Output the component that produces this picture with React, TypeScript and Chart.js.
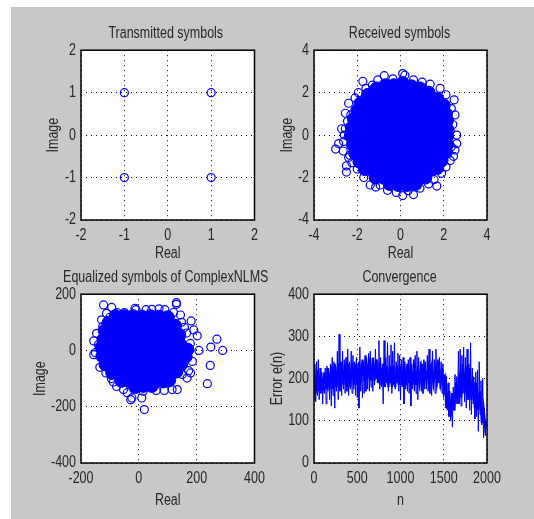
import React, { useEffect, useRef } from "react";
import { Chart, registerables } from "chart.js";

Chart.register(...registerables);

const transmittedPoints = [[-1, 1], [1, 1], [-1, -1], [1, -1]];

const receivedRim = [
  [-3.0, -0.66], [-2.86, -0.4], [-2.63, -0.3], [-2.72, 0.3], [-2.55, 1.03], [-2.4, 1.5], [-2.5, -1.74], [-2.5, -1.45],
  [-2.6, 0.0], [-2.45, 0.65], [-2.65, -0.75], [-2.4, -1.05], [-2.1, 1.75], [-1.74, 2.53], [-1.6, 2.2], [-1.05, 2.6], [-0.75, 2.8],
  [-0.35, 2.65], [0.1, 2.9], [0.2, 2.82], [0.6, 2.6], [1.0, 2.5], [1.37, 2.4], [1.83, 2.2], [2.1, 1.9], [2.48, 1.66],
  [2.35, 1.25], [2.52, 0.95], [2.42, 0.5], [2.6, 0.0], [2.6, -0.4], [2.52, -0.7], [2.3, -1.2], [2.1, -1.5], [1.9, -1.8],
  [1.68, -2.4], [1.3, -2.3], [0.9, -2.5], [0.6, -2.8], [0.1, -2.85], [-0.2, -2.7], [-0.6, -2.6], [-0.94, -2.35], [-1.4, -2.35],
  [-1.7, -2.0], [-2.0, -1.6], [-2.25, -1.3], [-2.55, 0.3], [-1.95, 2.0], [2.45, -1.0],
  [-2.35, -0.95], [-2.3, 0.95], [2.3, 0.2], [2.35, -0.55], [-1.3, 2.35], [1.55, -2.1], [-1.15, -2.45], [0.35, -2.62],
];

const receivedCore = [
  [-1.1, 2.2], [-0.7, 2.35], [-0.3, 2.35], [0.1, 2.45], [0.5, 2.3], [0.9, 2.2], [1.3, 2.0],
  [-1.5, 1.9], [-1.1, 1.95], [-0.7, 2.0], [-0.3, 2.0], [0.1, 2.05], [0.5, 1.95], [0.9, 1.9], [1.3, 1.7], [1.7, 1.7],
  [-1.85, 1.5], [-1.45, 1.55], [-1.05, 1.55], [-0.65, 1.55], [-0.25, 1.6], [0.15, 1.6], [0.55, 1.55], [0.95, 1.5], [1.35, 1.35], [1.75, 1.35], [2.0, 1.4],
  [-2.0, 1.15], [-1.65, 1.15], [-1.25, 1.15], [-0.85, 1.15], [-0.45, 1.2], [-0.05, 1.2], [0.35, 1.2], [0.75, 1.15], [1.15, 1.1], [1.55, 1.05], [1.95, 1.05], [2.1, 1.0],
  [-2.15, 0.75], [-1.75, 0.75], [-1.35, 0.75], [-0.95, 0.75], [-0.55, 0.8], [-0.15, 0.8], [0.25, 0.8], [0.65, 0.75], [1.05, 0.75], [1.45, 0.7], [1.85, 0.7], [2.15, 0.7],
  [-2.25, 0.35], [-1.85, 0.35], [-1.45, 0.35], [-1.05, 0.35], [-0.65, 0.4], [-0.25, 0.4], [0.15, 0.4], [0.55, 0.35], [0.95, 0.35], [1.35, 0.35], [1.75, 0.3], [2.15, 0.3],
  [-2.3, -0.05], [-1.9, -0.05], [-1.5, -0.05], [-1.1, -0.05], [-0.7, 0.0], [-0.3, 0.0], [0.1, 0.0], [0.5, -0.05], [0.9, -0.05], [1.3, 0.0], [1.7, -0.05], [2.15, -0.05],
  [-2.2, -0.45], [-1.8, -0.45], [-1.4, -0.45], [-1.0, -0.45], [-0.6, -0.4], [-0.2, -0.4], [0.2, -0.4], [0.6, -0.45], [1.0, -0.45], [1.4, -0.45], [1.8, -0.4], [2.15, -0.45],
  [-2.1, -0.85], [-1.7, -0.85], [-1.3, -0.85], [-0.9, -0.8], [-0.5, -0.8], [-0.1, -0.8], [0.3, -0.8], [0.7, -0.85], [1.1, -0.85], [1.5, -0.85], [1.9, -0.85], [2.1, -0.8],
  [-1.9, -1.25], [-1.55, -1.25], [-1.15, -1.25], [-0.75, -1.2], [-0.35, -1.2], [0.05, -1.2], [0.45, -1.2], [0.85, -1.25], [1.25, -1.25], [1.65, -1.2], [1.9, -1.2],
  [-1.65, -1.6], [-1.3, -1.65], [-0.9, -1.6], [-0.5, -1.6], [-0.1, -1.6], [0.3, -1.6], [0.7, -1.65], [1.1, -1.65], [1.5, -1.6], [1.7, -1.55],
  [-1.15, -2.0], [-0.8, -2.0], [-0.4, -2.0], [0.0, -2.05], [0.4, -2.0], [0.8, -2.05], [1.15, -2.0],
  [-0.5, -2.3], [-0.1, -2.35], [0.3, -2.35], [0.7, -2.3],
];

const equalizedRim = [
  [-122, 162], [-94, 153], [-129, 109], [-112, 132], [-146, 61], [-156, 34], [-156, -15], [-150, -8], [-135, -60], [-114, -80],
  [-95, -100], [-77, -128], [-53, -139], [-24, -169], [-28, -175], [10, -169], [19, -210], [15, -145], [60, -142], [88, -142], [115, -139],
  [133, -139], [150, -85], [167, -98], [179, -80], [172, -72], [185, -39], [208, 0], [202, 52], [190, 73], [181, 105], [144, 126], [130, 170],
  [130, 164], [120, 135], [90, 145], [70, 148], [45, 146], [25, 145], [-13, 150], [-10, 145], [-50, 135], [-75, 135], [270, 40], [249, 12],
  [290, 0], [247, -53], [237, -118], [165, 62], [178, 25], [-140, 20],
  [-100, 118], [-125, 85], [-88, -112], [148, 100], [158, 82], [-40, -150],
];

const equalizedCore = [
  [-80, 122], [-50, 122], [-20, 122], [10, 120], [40, 122], [70, 120], [100, 118],
  [-105, 98], [-75, 98], [-45, 98], [-15, 98], [15, 95], [45, 98], [75, 95], [105, 95], [125, 88],
  [-118, 70], [-90, 70], [-60, 70], [-30, 70], [0, 68], [30, 70], [60, 68], [90, 68], [120, 65], [140, 55],
  [-122, 40], [-95, 40], [-65, 40], [-35, 40], [-5, 40], [25, 40], [55, 40], [85, 38], [115, 38], [140, 25],
  [-128, 10], [-100, 10], [-70, 10], [-40, 10], [-10, 10], [20, 10], [50, 10], [80, 10], [110, 10], [140, 8], [168, 3],
  [-126, -20], [-100, -20], [-70, -20], [-40, -20], [-10, -20], [20, -20], [50, -20], [80, -20], [110, -20], [140, -20], [162, -22],
  [-115, -50], [-90, -50], [-60, -50], [-30, -50], [0, -50], [30, -50], [60, -50], [90, -50], [120, -50], [146, -50],
  [-92, -80], [-70, -80], [-40, -80], [-10, -80], [20, -80], [50, -80], [80, -80], [110, -80], [130, -75],
  [-60, -108], [-35, -108], [-5, -110], [25, -110], [55, -110], [85, -110], [105, -106],
  [-12, -130], [15, -126], [45, -126],
];

const errorValues = [
  150, 235, 145, 240, 160, 245, 150, 225, 165, 215,
  140, 205, 165, 225, 140, 230, 170, 215, 150, 235,
  135, 250, 160, 240, 130, 230, 170, 265, 150, 305,
  170, 240, 160, 265, 175, 245, 165, 250, 170, 270,
  160, 240, 175, 265, 165, 255, 175, 240, 160, 250,
  155, 235, 130, 275, 170, 225, 155, 240, 165, 255,
  170, 225, 175, 260, 170, 265, 180, 225, 170, 240,
  185, 270, 200, 245, 190, 290, 175, 250, 180, 235,
  140, 290, 185, 250, 190, 285, 170, 255, 190, 280,
  165, 265, 185, 285, 175, 240, 190, 260, 170, 255,
  150, 245, 180, 250, 140, 240, 175, 230, 170, 245,
  165, 250, 135, 235, 175, 245, 170, 255, 165, 265,
  150, 250, 175, 240, 170, 235, 165, 245, 175, 240,
  175, 255, 170, 270, 165, 235, 160, 265, 175, 245,
  165, 270, 180, 245, 190, 250, 175, 240, 165, 235,
  160, 210, 130, 205, 125, 190, 110, 170, 100, 165,
  85, 180, 125, 210, 140, 205, 150, 265, 140, 270,
  135, 255, 165, 275, 145, 250, 130, 270, 150, 235,
  125, 285, 115, 225, 140, 190, 105, 215, 110, 220,
  75, 240, 115, 195, 90, 200, 60, 130, 65, 100, 95,
];
const errorStep = 10;

const errorBand = [
  225, 165, 220, 170, 215, 170, 215, 175, 225, 175,
  230, 175, 235, 180, 235, 180, 240, 185, 235, 180,
  235, 180, 240, 185, 235, 185, 240, 190, 245, 195,
  250, 200, 250, 195, 250, 195, 245, 190, 240, 185,
  235, 180, 230, 180, 230, 180, 230, 180, 230, 185,
  230, 185, 235, 185, 235, 190, 230, 185, 225, 185,
  230, 190, 225, 195, 225, 195, 225, 195, 225, 190,
  225, 190, 225, 190, 225, 170, 195, 130, 170, 110,
  165, 125, 190, 140, 215, 155, 235, 165, 230, 160,
  225, 150, 205, 130, 190, 125, 170, 95, 130, 85, 100,
];
const errorBandStep = 20;

const BLUE = "#0000ff";
const FONT = '"Liberation Sans", sans-serif';
const INK = "#262626";
const NARROW = 0.78;

const toXY = (rows: number[][]) => rows.map(([x, y]) => ({ x, y }));

const framePlugin = {
  id: "frame",
  afterLayout(chart: any) {
    // Centre the title over the plot rather than over the padded canvas.
    const a = chart.chartArea;
    const shift = chart.options.plugins.frame?.titleShift ?? 0;
    chart.titleBlock.left = a.left + shift;
    chart.titleBlock.right = a.right + shift;
  },
  afterDraw(chart: any) {
    const { ctx, chartArea: a } = chart;
    ctx.save();
    ctx.strokeStyle = "#000";
    ctx.lineWidth = 1.5;
    ctx.strokeRect(a.left, a.top, a.right - a.left, a.bottom - a.top);
    ctx.restore();
  },
};

// Paints the plot white and draws all chart text in a condensed width, as in the reference.
const whitePlot = {
  id: "whitePlot",
  beforeDraw(chart: any) {
    const { ctx, chartArea: a } = chart;
    if (!ctx.__narrow) {
      const fill = ctx.fillText.bind(ctx);
      ctx.fillText = (t: string, x: number, y: number) => fill(t, x, y, ctx.measureText(t).width * NARROW);
      ctx.__narrow = true;
    }
    ctx.save();
    ctx.fillStyle = "#fff";
    ctx.fillRect(a.left, a.top, a.right - a.left, a.bottom - a.top);
    ctx.restore();
  },
};

type PanelProps = {
  left: number; top: number; width: number; height: number;
  axisW: number; axisH: number; padRight: number; titleShift: number;
  title: string; xTitle: string; yTitle: string;
  xRange: [number, number, number]; yRange: [number, number, number];
  datasets: any[];
};

function axis(range: [number, number, number], label: string, fixed: number, horizontal: boolean) {
  return {
    type: "linear",
    min: range[0],
    max: range[1],
    ticks: {
      stepSize: range[2], color: INK, font: { family: FONT, size: 16 }, padding: horizontal ? 6 : 5,
      maxRotation: 0, autoSkip: false, callback: (v: number) => String(v),
    },
    grid: { color: "#000", lineWidth: 1, tickLength: 0, drawTicks: false },
    border: { display: false, dash: [1, 4] },
    title: { display: true, text: label, color: INK, font: { family: FONT, size: 16 }, padding: 0 },
    afterFit(s: any) {
      if (horizontal) s.height = fixed; else s.width = fixed;
    },
  };
}

function Panel(p: PanelProps) {
  const ref = useRef<HTMLCanvasElement | null>(null);
  useEffect(() => {
    const chart = new Chart(ref.current as HTMLCanvasElement, {
      type: "scatter",
      data: { datasets: p.datasets },
      options: {
        animation: false,
        responsive: false,
        layout: { padding: { left: 0, right: p.padRight, top: 0, bottom: 0 } },
        plugins: {
          legend: { display: false },
          tooltip: { enabled: false },
          frame: { titleShift: p.titleShift },
          title: { display: true, text: p.title, color: INK, font: { family: FONT, size: 16, weight: "normal" }, padding: { top: 4, bottom: 7 } },
        },
        scales: {
          x: axis(p.xRange, p.xTitle, p.axisH, true),
          y: axis(p.yRange, p.yTitle, p.axisW, false),
        },
      } as any,
      plugins: [whitePlot, framePlugin],
    });
    return () => chart.destroy();
  }, []);
  return (
    <canvas
      ref={ref}
      width={p.width}
      height={p.height}
      style={{ position: "absolute", left: p.left, top: p.top, width: p.width, height: p.height, filter: "blur(0.4px)" }}
    />
  );
}

const hollow = (rows: number[][], r = 4) => ({
  data: toXY(rows), showLine: false, pointRadius: r, pointBorderColor: BLUE, pointBackgroundColor: "transparent", pointBorderWidth: 1.2,
});
const solid = (rows: number[][]) => ({
  data: toXY(rows), showLine: false, pointRadius: 6.5, pointBorderColor: BLUE, pointBackgroundColor: BLUE, pointBorderWidth: 1,
});

export default function App() {
  return (
    <div style={{ position: "fixed", left: 0, top: 0, width: 534, height: 519, background: "#fff", overflow: "hidden" }}>
      <div style={{ position: "absolute", left: 11, top: 7, right: 0, bottom: 0, background: "#c8c8c8" }} />
      <Panel left={44} top={20} width={248} height={243} axisW={37} axisH={43} padRight={37.5} titleShift={-2}
        title="Transmitted symbols" xTitle="Real" yTitle="Image" xRange={[-2, 2, 1]} yRange={[-2, 2, 1]}
        datasets={[hollow(transmittedPoints)]} />
      <Panel left={278} top={20} width={245} height={243} axisW={36} axisH={43} padRight={36} titleShift={-1}
        title="Received symbols" xTitle="Real" yTitle="Image" xRange={[-4, 4, 2]} yRange={[-4, 4, 2]}
        datasets={[solid(receivedCore), hollow(receivedRim)]} />
      <Panel left={31} top={264} width={274} height={246} axisW={50} axisH={47} padRight={50.5} titleShift={-2}
        title="Equalized symbols of ComplexNLMS" xTitle="Real" yTitle="Image" xRange={[-200, 400, 200]} yRange={[-400, 200, 200]}
        datasets={[solid(equalizedCore), hollow(equalizedRim)]} />
      <Panel left={268} top={264} width={265} height={246} axisW={46} axisH={47} padRight={46} titleShift={-1}
        title="Convergence" xTitle="n" yTitle="Error e(n)" xRange={[0, 2000, 500]} yRange={[0, 400, 100]}
        datasets={[
          {
            data: errorBand.map((y, i) => ({ x: i * errorBandStep, y })),
            showLine: true, pointRadius: 0, borderColor: BLUE, borderWidth: 2.2,
          },
          {
            data: errorValues.map((y, i) => ({ x: i * errorStep, y })),
            showLine: true, pointRadius: 0, borderColor: BLUE, borderWidth: 1,
          },
        ]} />
    </div>
  );
}
